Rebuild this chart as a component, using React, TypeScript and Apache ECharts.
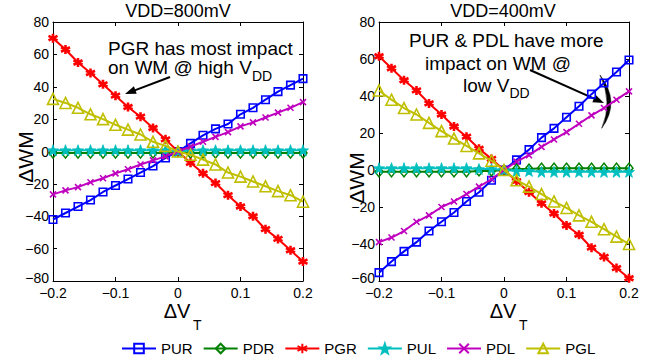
import React, { useEffect, useRef } from 'react';
import * as echarts from 'echarts';

// ΔV_T sample points
const dvt = [-0.2, -0.18, -0.16, -0.14, -0.12, -0.1, -0.08, -0.06, -0.04, -0.02, 0, 0.02, 0.04, 0.06, 0.08, 0.1, 0.12, 0.14, 0.16, 0.18, 0.2];

const seriesNames = ['PUR', 'PDR', 'PGR', 'PUL', 'PDL', 'PGL'];
const titles = ['VDD=800mV', 'VDD=400mV'];

// VDD = 800 mV
const hiPUR = [-42, -38, -34, -30, -25, -21, -17, -13, -9, -4, 0, 5, 10, 14, 17, 23, 27, 32, 37, 41, 45];
const hiPDR = [-1, -1, -1, -1, -1, -1, -1, -1, -1, -1, 0, -1, -1, -1, -1, -1, -1, -1, -1, -1, -1];
const hiPGR = [70, 63, 55, 48.5, 41.5, 34.5, 27.5, 21.5, 14.5, 7.5, 0, -7, -13.5, -19.5, -27, -34, -40, -48, -54, -61, -68];
const hiPUL = [0.8, 0.8, 0.8, 0.8, 0.8, 0.8, 0.8, 0.8, 0.8, 0.8, 0, 0.8, 0.8, 0.8, 0.8, 0.8, 0.8, 0.8, 0.8, 0.8, 0.8];
const hiPDL = [-26.5, -24, -22, -19, -16.5, -13.5, -11, -8, -5.5, -3, 0, 3, 6, 9, 12, 15.5, 18, 21, 24, 27, 30.5];
const hiPGL = [32.5, 30, 27, 23, 20, 16.5, 13.5, 10.5, 6, 3.5, 0, -2, -5, -8, -13, -15.5, -18.5, -21.5, -24.5, -27, -31];

// VDD = 400 mV
const loPUR = [-55.5, -49.5, -44, -39, -33, -28, -23, -17, -12, -5.5, 0, 5.5, 11, 17.5, 22.5, 28.5, 34.5, 41, 47, 53, 59.5];
const loPDR = [-1, -1, -1, -1, -1, -1, -1, -1, -0.5, -0.5, 0, 0.5, 0.5, 1, 1, 1, 1, 1, 1, 1, 1];
const loPGR = [61.5, 55, 48.5, 43, 36, 30, 23.5, 18, 11.5, 6, 0, -6, -12, -18, -23.5, -30, -35, -42, -47, -53, -58.5];
const loPUL = [1, 1, 1, 1, 1, 1, 1, 1, 0.5, 0.5, 0, -0.5, -0.5, -1, -1, -1, -1, -1, -1, -1, -1];
const loPDL = [-39, -36.5, -33, -28, -24.5, -20, -17, -13, -9, -5, 0, 4.5, 8, 12.5, 16.5, 20.5, 25, 29.5, 33.5, 38, 42.5];
const loPGL = [43, 38, 33.5, 30, 25.5, 21, 17, 13, 9, 5, 0, -5.5, -9, -13, -17, -20.5, -24.5, -28, -32, -36, -40];

const hiData = [hiPUR, hiPDR, hiPGR, hiPUL, hiPDL, hiPGL];
const loData = [loPUR, loPDR, loPGR, loPUL, loPDL, loPGL];

const FONT = 'Liberation Sans, Arial, Helvetica, sans-serif';

const ASTERISK = 'path://M0,-10L0,10M-8.66,-5L8.66,5M-8.66,5L8.66,-5';
const STAR = 'path://M0,-10L2.35,-3.24L9.51,-3.09L3.8,1.24L5.88,8.09L0,4L-5.88,8.09L-3.8,1.24L-9.51,-3.09L-2.35,-3.24Z';
const XMARK = 'path://M-1,-1L1,1M-1,1L1,-1';

const styles = [
  { color: '#0000ff', symbol: 'rect', size: 7.5, fill: 'rgba(0,0,0,0)', bw: 1.6 },
  { color: '#008000', symbol: 'diamond', size: [8, 10], fill: 'rgba(0,0,0,0)', bw: 1.5 },
  { color: '#ff0000', symbol: ASTERISK, size: 9, fill: '#ff0000', bw: 2.6 },
  { color: '#00bfbf', symbol: STAR, size: 11, fill: '#00bfbf', bw: 0.8 },
  { color: '#bf00bf', symbol: XMARK, size: 6, fill: 'rgba(0,0,0,0)', bw: 1.6 },
  { color: '#bfbf00', symbol: 'triangle', size: 11, fill: 'rgba(0,0,0,0)', bw: 1.6 },
];

echarts.graphic.registerShape(
  'bracket',
  echarts.graphic.extendPath('M600,75 Q621,102 601.7,128.3 Q613,102 600,75 Z', {}) as any
);

function txt(text: string, x: number, y: number, size: number, align = 'left', rotation = 0) {
  return {
    type: 'text',
    x,
    y,
    rotation,
    silent: true,
    style: {
      text,
      fontSize: size,
      fontFamily: FONT,
      fill: '#000',
      align,
      textAlign: align,
      verticalAlign: 'middle',
      textVerticalAlign: 'middle',
    },
  };
}

function arrow(x1: number, y1: number, tx: number, ty: number) {
  const dx = tx - x1;
  const dy = ty - y1;
  const len = Math.sqrt(dx * dx + dy * dy);
  const ux = dx / len;
  const uy = dy / len;
  const hl = 11;
  const hw = 4;
  const bx = tx - ux * hl;
  const by = ty - uy * hl;
  return [
    { type: 'line', silent: true, shape: { x1, y1, x2: bx + ux * 2, y2: by + uy * 2 }, style: { stroke: '#000', lineWidth: 2 } },
    {
      type: 'polygon',
      silent: true,
      shape: { points: [[tx, ty], [bx - uy * hw, by + ux * hw], [bx + uy * hw, by - ux * hw]] },
      style: { fill: '#000' },
    },
  ];
}

const fmt = (v: number) => String(Math.round(v * 100) / 100).replace('-', '\u2212');

const gridBoxes = [
  { left: 53, top: 22, width: 250, height: 259 },
  { left: 379, top: 22, width: 250, height: 259 },
];
const yRanges = [
  { min: -80, max: 80 },
  { min: -60, max: 80 },
];

export default function App() {
  const ref = useRef<HTMLDivElement>(null);

  useEffect(() => {
    if (!ref.current) return;
    const chart = echarts.init(ref.current, null, { renderer: 'svg' });

    const xAxes: any[] = [];
    const yAxes: any[] = [];
    [0, 1].forEach((g) => {
      ['bottom', 'top'].forEach((pos) => {
        xAxes.push({
          type: 'value',
          gridIndex: g,
          position: pos,
          min: -0.2,
          max: 0.2,
          interval: 0.1,
          axisLine: { show: true, onZero: false, lineStyle: { color: '#000', width: 1 } },
          axisTick: { show: true, inside: true, length: 4, lineStyle: { color: '#000' } },
          axisLabel: {
            show: pos === 'bottom',
            color: '#000',
            fontSize: 14,
            fontFamily: FONT,
            margin: 5,
            formatter: fmt,
          },
          splitLine: { show: false },
        });
      });
      ['left', 'right'].forEach((pos) => {
        const lo = yRanges[g].min;
        yAxes.push({
          type: 'value',
          gridIndex: g,
          position: pos,
          min: lo,
          max: yRanges[g].max,
          interval: 20,
          axisLine: { show: true, onZero: false, lineStyle: { color: '#000', width: 1 } },
          axisTick: { show: true, inside: true, length: 4, lineStyle: { color: '#000' } },
          axisLabel: {
            show: pos === 'left',
            color: '#000',
            fontSize: 14,
            fontFamily: FONT,
            margin: 4,
            formatter: (v: number) => (v === lo ? '{lo|' + fmt(v) + '}' : fmt(v)),
            rich: {
              lo: { fontSize: 14, fontFamily: FONT, color: '#000', padding: [0, 0, 7, 0] },
            },
          },
          splitLine: { show: false },
        });
      });
    });

    const series: any[] = [];
    [hiData, loData].forEach((set, g) => {
      set.forEach((vals, i) => {
        const s = styles[i];
        series.push({
          type: 'line',
          name: seriesNames[i],
          xAxisIndex: g * 2,
          yAxisIndex: g * 2,
          data: dvt.map((x, k) => [x, vals[k]]),
          symbol: s.symbol,
          symbolSize: s.size,
          showAllSymbol: true,
          clip: false,
          lineStyle: { color: s.color, width: 2 },
          itemStyle: { color: s.fill, borderColor: s.color, borderWidth: s.bw },
          emphasis: { disabled: true },
          z: 2 + i,
        });
      });
    });

    const graphic: any[] = [
      txt(titles[0], 178, 11, 18, 'center'),
      txt(titles[1], 503, 11, 18, 'center'),
      txt('ΔWM', 25, 157, 21, 'center', Math.PI / 2),
      txt('ΔWM', 356, 178, 21, 'center', Math.PI / 2),
      txt('ΔV', 177, 311, 20, 'center'),
      txt('T', 193, 325, 14, 'left'),
      txt('ΔV', 503, 311, 20, 'center'),
      txt('T', 519, 325, 14, 'left'),
      // left annotation
      txt('PGR has most impact', 108, 48, 19, 'left'),
      txt('on WM @ high V', 108, 67, 19, 'left'),
      txt('DD', 252, 76, 14, 'left'),
      ...arrow(170, 77, 125, 94),
      // right annotation
      txt('PUR & PDL have more', 409, 40, 19, 'left'),
      txt('impact on WM @', 425, 63, 19, 'left'),
      txt('low V', 463, 85, 19, 'left'),
      txt('DD', 509.5, 93, 14, 'left'),
      ...arrow(530, 70, 604, 103),
      { type: 'bracket', x: 0, y: 0, silent: true, style: { fill: '#000', stroke: '#000', lineWidth: 0.5 } },
    ];

    chart.setOption({
      animation: false,
      backgroundColor: '#fff',
      grid: gridBoxes.map((b) => ({ ...b, containLabel: false })),
      xAxis: xAxes,
      yAxis: yAxes,
      legend: {
        data: seriesNames,
        left: 121,
        top: 341,
        padding: 0,
        itemWidth: 34,
        itemHeight: 12,
        itemGap: 10,
        textStyle: { color: '#000', fontSize: 15, fontFamily: FONT },
        selectedMode: false,
      },
      series,
      graphic,
    });

    return () => {
      chart.dispose();
    };
  }, []);

  return <div ref={ref} style={{ position: 'fixed', left: 0, top: 0, width: 654, height: 362 }} />;
}
